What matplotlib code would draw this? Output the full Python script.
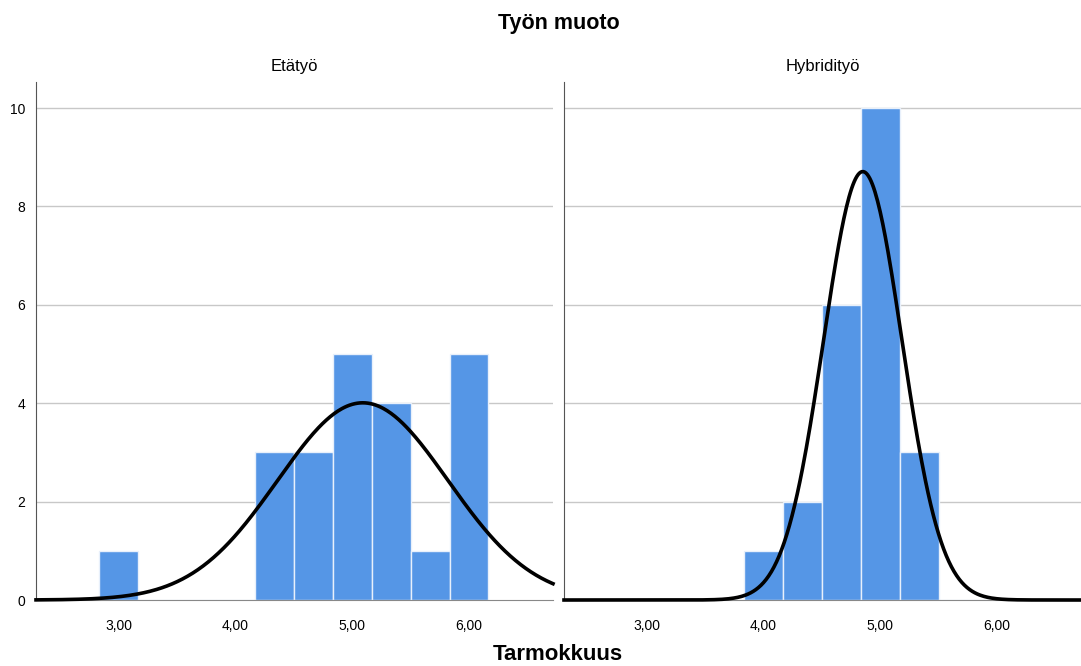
import numpy as np
import matplotlib
matplotlib.use("Agg")
import matplotlib.pyplot as plt

plt.rcParams['font.family'] = ['Liberation Sans', 'DejaVu Sans']

# histogram bins (width 1/3) and counts per panel
edges = np.array([2.8333, 3.1667, 3.5, 3.8333, 4.1667, 4.5, 4.8333, 5.1667, 5.5, 5.8333, 6.1667])
counts_eta = [1, 0, 0, 0, 3, 3, 5, 4, 1, 5]
counts_hyb = [0, 0, 0, 1, 2, 6, 10, 3, 0, 0]
panels = ["Etätyö", "Hybridityö"]
# normal curve parameters
mean_eta, sd_eta, n_eta = 5.09, 0.73, 22
mean_hyb, sd_hyb, n_hyb = 4.85, 0.336, 22

xticks = [3, 4, 5, 6]
xticklabels = ["3,00", "4,00", "5,00", "6,00"]
yticks = [0, 2, 4, 6, 8, 10]

fig = plt.figure(figsize=(10.81, 6.66), dpi=100)
ax1 = fig.add_axes([36/1081, 1-600/666, 517/1081, 518/666])
ax2 = fig.add_axes([564/1081, 1-600/666, 517/1081, 518/666])

bw = edges[1] - edges[0]
xs = np.linspace(2.29, 6.72, 400)
data = [(ax1, counts_eta, mean_eta, sd_eta, n_eta), (ax2, counts_hyb, mean_hyb, sd_hyb, n_hyb)]
for i, (ax, counts, m, s, n) in enumerate(data):
    ax.bar(edges[:-1], counts, width=bw, align='edge', color='#5596e6',
           edgecolor='#e8f0fb', linewidth=1.0, zorder=2)
    y = n * bw / (s * np.sqrt(2*np.pi)) * np.exp(-0.5*((xs - m)/s)**2)
    ax.plot(xs, y, color='black', lw=2.6, zorder=3, clip_on=False)
    ax.set_xlim(2.29, 6.72)
    ax.set_ylim(0, 10.53)
    ax.set_yticks(yticks)
    for g in yticks[1:]:
        ax.axhline(g, color='#c8c8c8', lw=1.0, zorder=1)
    ax.set_xticks(xticks)
    ax.set_xticklabels(xticklabels)
    ax.tick_params(axis='x', length=0, pad=14, labelsize=10)
    ax.tick_params(axis='y', length=0, pad=8, labelsize=10)
    for sp in ['top', 'right']:
        ax.spines[sp].set_visible(False)
    ax.spines['left'].set_color('#555555')
    ax.spines['bottom'].set_color('#888888')
    ax.set_title(panels[i], fontsize=12, pad=8)
    if i == 1:
        ax.set_yticklabels([])

fig.text(0.517, 1-23/666, "Työn muoto", ha='center', va='center', fontsize=15.5, fontweight='bold')
fig.text(0.516, 1-655/666, "Tarmokkuus", ha='center', va='center', fontsize=16, fontweight='bold')

fig.savefig("out.png", dpi=100)
